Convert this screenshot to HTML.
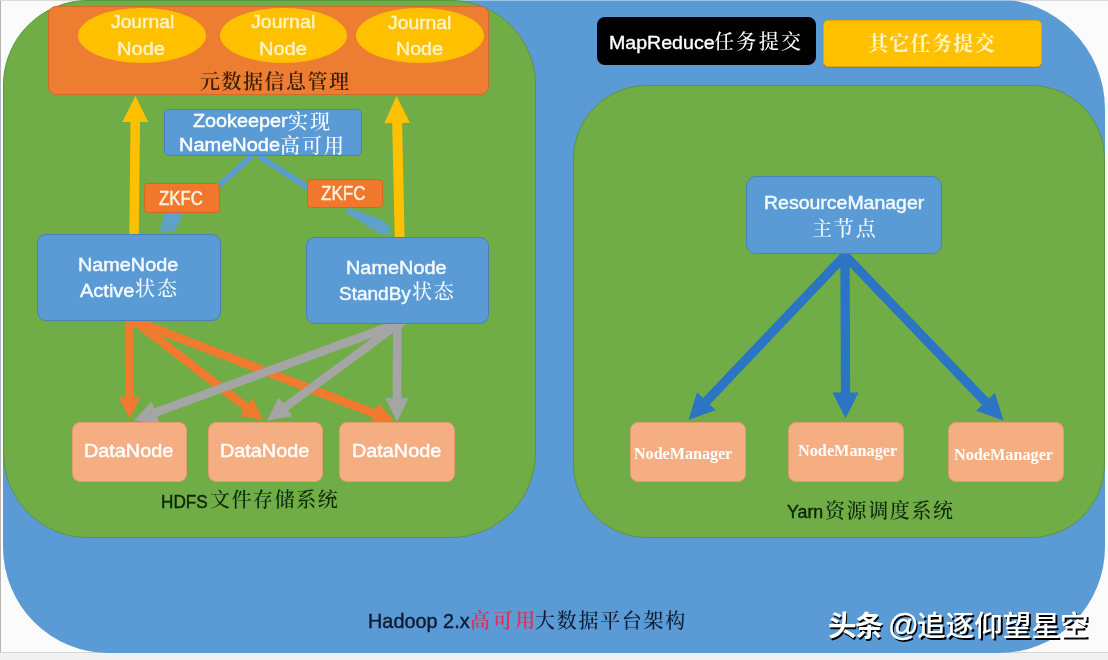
<!DOCTYPE html>
<html lang="zh"><head><meta charset="utf-8"><title>Hadoop 2.x HA architecture</title>
<style>
html,body{margin:0;padding:0}
body{width:1108px;height:660px;overflow:hidden;position:relative;background:#f1f1f1;font-family:"Liberation Sans",sans-serif}
.b{position:absolute;box-sizing:border-box}
.t{position:absolute;white-space:nowrap;line-height:1;transform-origin:0 50%;filter:blur(.35px)}
.c{position:absolute;overflow:visible;filter:blur(.35px)}
.l{position:absolute;left:0;top:0;overflow:visible;filter:blur(.4px)}
.se{font-family:"Liberation Serif","Noto Serif CJK SC",serif;font-size:200px}
.sa{font-family:"Liberation Sans","Noto Sans CJK SC",sans-serif;font-size:200px}
</style></head><body>
<div class="b " style="left:0.0px;top:0.0px;width:1108.0px;height:652.6px;border-radius:0px;background:#fbfbfb;border-left:1px solid #b4b4b4;border-top:1px solid #c4c4c4;border-bottom:1px solid #d6d6d6;"></div>
<div class="b " style="left:2.5px;top:-1.0px;width:1102.5px;height:654.2px;border-radius:109px 110px 106px 106px;background:#5b9bd5;"></div>
<div class="b " style="left:0.0px;top:0.0px;width:1108.0px;height:1.0px;border-radius:0px;background:rgba(255,255,255,.4);"></div>
<div class="b " style="left:2.5px;top:0.0px;width:533.0px;height:538.2px;border-radius:85px;background:#70ad47;border:1px solid #5d9440;"></div>
<div class="b " style="left:47.6px;top:6.4px;width:441.9px;height:88.6px;border-radius:8px;background:#ed7d31;border:1px solid #cf6c28;"></div>
<div class="b " style="left:78.0px;top:7.5px;width:128.0px;height:55.0px;border-radius:50%;background:#ffc000;"></div>
<div class="b " style="left:220.0px;top:7.5px;width:127.3px;height:55.0px;border-radius:50%;background:#ffc000;"></div>
<div class="b " style="left:356.0px;top:7.5px;width:127.6px;height:55.0px;border-radius:50%;background:#ffc000;"></div>
<div class="t" style="left:110.70px;top:13.10px;font-family:'Liberation Sans',sans-serif;font-size:18.17px;color:#fff3c4;transform:scaleX(1.0621);-webkit-text-stroke:0.45px #fff3c4;">Journal</div>
<div class="t" style="left:117.35px;top:40.10px;font-family:'Liberation Sans',sans-serif;font-size:18.17px;color:#fff3c4;transform:scaleX(1.1061);-webkit-text-stroke:0.45px #fff3c4;">Node</div>
<div class="t" style="left:251.49px;top:13.10px;font-family:'Liberation Sans',sans-serif;font-size:18.17px;color:#fff3c4;transform:scaleX(1.0793);-webkit-text-stroke:0.45px #fff3c4;">Journal</div>
<div class="t" style="left:259.36px;top:40.10px;font-family:'Liberation Sans',sans-serif;font-size:18.17px;color:#fff3c4;transform:scaleX(1.1036);-webkit-text-stroke:0.45px #fff3c4;">Node</div>
<div class="t" style="left:387.90px;top:14.10px;font-family:'Liberation Sans',sans-serif;font-size:18.17px;color:#fff3c4;transform:scaleX(1.0639);-webkit-text-stroke:0.45px #fff3c4;">Journal</div>
<div class="t" style="left:395.69px;top:40.10px;font-family:'Liberation Sans',sans-serif;font-size:18.17px;color:#fff3c4;transform:scaleX(1.0817);-webkit-text-stroke:0.45px #fff3c4;">Node</div>
<svg class="c" role="img" aria-label="元数据信息管理" style="left:200.34px;top:71.45px;" width="148.9" height="23.0" viewBox="0 -180.0 1489.4 230.0" fill="#3a1f06"><text class="se" font-weight="600" y="0" x="0 214.9 429.8 644.7 859.6 1074.5 1289.4">元数据信息管理</text></svg>
<svg class="l" width="1108" height="660" viewBox="0 0 1108 660"><polygon fill="#ffc000" points="138.7,236.1 140.0,122.0 148.2,122.1 135.5,96.0 122.2,121.9 130.5,121.9 129.3,235.9"/><polygon fill="#ffc000" points="404.6,238.9 402.1,122.9 409.9,122.7 396.5,96.0 384.3,123.3 392.2,123.1 394.8,239.1"/><polygon fill="#5a9bd2" points="250.3,153.9 214.1,185.9 217.9,190.1 254.1,158.1"/><polygon fill="#5a9bd2" points="257.3,158.4 310.5,192.6 313.5,187.8 260.3,153.6"/><polygon fill="#5c9fd6" opacity=".92" points="165,213.5 183.3,213.5 174.7,231.3 159.5,231.3"/><polygon fill="#5c9fd6" opacity=".92" points="346,209 351,208.5 383,220.5 389,226 390.5,234.5 379,233.5 345,211.5"/></svg>
<div class="b " style="left:163.5px;top:108.7px;width:198.3px;height:47.3px;border-radius:5px;background:#5b9bd5;border:1px solid #4a80b8;"></div>
<div class="t" style="left:192.97px;top:112.10px;font-family:'Liberation Sans',sans-serif;font-size:18.46px;color:#fff;transform:scaleX(1.0726);-webkit-text-stroke:0.45px #fff;">Zookeeper</div>
<svg class="c" role="img" aria-label="实现" style="left:287.76px;top:110.60px;" width="41.9" height="23.0" viewBox="0 -180.0 418.8 230.0" fill="#fff"><text class="se" font-weight="500" y="0" x="0 218.8">实现</text></svg>
<div class="t" style="left:178.76px;top:136.10px;font-family:'Liberation Sans',sans-serif;font-size:18.46px;color:#fff;transform:scaleX(1.0831);-webkit-text-stroke:0.45px #fff;">NameNode</div>
<svg class="c" role="img" aria-label="高可用" style="left:280.48px;top:134.60px;" width="64.0" height="23.0" viewBox="0 -180.0 640.0 230.0" fill="#fff"><text class="se" font-weight="500" y="0" x="0 220 440">高可用</text></svg>
<div class="b " style="left:144.0px;top:183.4px;width:76.0px;height:29.4px;border-radius:4px;background:#f0772b;border:1px solid #d2691f;"></div>
<div class="t" style="left:159.17px;top:189.10px;font-family:'Liberation Sans',sans-serif;font-size:19.77px;color:#fff1e2;transform:scaleX(0.8481);-webkit-text-stroke:0.45px #fff1e2;">ZKFC</div>
<div class="b " style="left:306.6px;top:179.3px;width:76.2px;height:29.1px;border-radius:4px;background:#f0772b;border:1px solid #d2691f;"></div>
<div class="t" style="left:321.46px;top:184.10px;font-family:'Liberation Sans',sans-serif;font-size:19.77px;color:#fff1e2;transform:scaleX(0.8620);-webkit-text-stroke:0.45px #fff1e2;">ZKFC</div>
<svg class="l" width="1108" height="660" viewBox="0 0 1108 660"><polygon fill="#f07a2e" points="124.8,317.0 125.0,397.6 118.5,397.6 129.6,418.6 140.5,397.6 134.0,397.6 133.8,317.0"/><polygon fill="#f07a2e" points="128.2,321.5 243.7,410.6 239.7,415.9 263.0,420.0 253.1,398.5 249.0,403.8 133.5,314.7"/><polygon fill="#f07a2e" points="128.7,323.1 372.9,417.4 370.4,423.7 394.0,421.0 378.4,403.2 376.0,409.4 131.8,315.0"/><polygon fill="#a5a5a5" points="393.0,320.0 392.7,398.0 385.4,398.0 397.0,421.5 408.8,398.0 401.4,398.0 401.6,320.0"/><polygon fill="#a5a5a5" points="400.2,317.2 283.0,403.4 278.6,397.4 267.0,420.5 292.5,416.3 288.1,410.3 405.3,324.1"/><polygon fill="#a5a5a5" points="401.8,317.6 154.1,408.5 151.6,401.6 134.0,420.5 159.6,423.6 157.1,416.6 404.7,325.7"/></svg>
<div class="b " style="left:37.3px;top:234.4px;width:183.7px;height:86.2px;border-radius:9px;background:#5b9bd5;border:1px solid #4a80b8;"></div>
<div class="t" style="left:77.87px;top:256.10px;font-family:'Liberation Sans',sans-serif;font-size:18.31px;color:#f4fbff;transform:scaleX(1.0828);-webkit-text-stroke:0.45px #f4fbff;">NameNode</div>
<div class="t" style="left:79.96px;top:282.10px;font-family:'Liberation Sans',sans-serif;font-size:18.31px;color:#f4fbff;transform:scaleX(1.0934);-webkit-text-stroke:0.45px #f4fbff;">Active</div>
<svg class="c" role="img" aria-label="状态" style="left:135.12px;top:277.85px;" width="42.0" height="23.0" viewBox="0 -180.0 419.8 230.0" fill="#f4fbff"><text class="se" font-weight="500" y="0" x="0 219.8">状态</text></svg>
<div class="b " style="left:305.5px;top:237.3px;width:183.0px;height:86.3px;border-radius:9px;background:#5b9bd5;border:1px solid #4a80b8;"></div>
<div class="t" style="left:346.17px;top:259.10px;font-family:'Liberation Sans',sans-serif;font-size:18.31px;color:#f4fbff;transform:scaleX(1.0873);-webkit-text-stroke:0.45px #f4fbff;">NameNode</div>
<div class="t" style="left:339.14px;top:285.10px;font-family:'Liberation Sans',sans-serif;font-size:18.31px;color:#f4fbff;transform:scaleX(1.0385);-webkit-text-stroke:0.45px #f4fbff;">StandBy</div>
<svg class="c" role="img" aria-label="状态" style="left:411.62px;top:280.85px;" width="41.8" height="23.0" viewBox="0 -180.0 417.8 230.0" fill="#f4fbff"><text class="se" font-weight="500" y="0" x="0 217.8">状态</text></svg>
<div class="b " style="left:71.6px;top:422.2px;width:115.4px;height:59.5px;border-radius:8px;background:#f5ad82;border:1px solid #e39c72;"></div>
<div class="t" style="left:83.97px;top:443.10px;font-family:'Liberation Sans',sans-serif;font-size:17.73px;color:#fff;transform:scaleX(1.1185);-webkit-text-stroke:0.45px #fff;">DataNode</div>
<div class="b " style="left:208.0px;top:422.2px;width:114.6px;height:59.5px;border-radius:8px;background:#f5ad82;border:1px solid #e39c72;"></div>
<div class="t" style="left:220.37px;top:443.10px;font-family:'Liberation Sans',sans-serif;font-size:17.73px;color:#fff;transform:scaleX(1.1185);-webkit-text-stroke:0.45px #fff;">DataNode</div>
<div class="b " style="left:339.3px;top:422.2px;width:115.3px;height:59.5px;border-radius:8px;background:#f5ad82;border:1px solid #e39c72;"></div>
<div class="t" style="left:351.67px;top:443.10px;font-family:'Liberation Sans',sans-serif;font-size:17.73px;color:#fff;transform:scaleX(1.1185);-webkit-text-stroke:0.45px #fff;">DataNode</div>
<div class="t" style="left:160.59px;top:493.10px;font-family:'Liberation Sans',sans-serif;font-size:18.90px;color:#0c2607;transform:scaleX(0.9078);-webkit-text-stroke:0.45px #0c2607;">HDFS</div>
<svg class="c" role="img" aria-label="文件存储系统" style="left:209.72px;top:489.10px;" width="127.8" height="23.0" viewBox="0 -180.0 1277.6 230.0" fill="#0c2607"><text class="se" font-weight="500" y="0" x="0 215.5 431 646.6 862.1 1077.6">文件存储系统</text></svg>
<div class="b " style="left:597.3px;top:17.3px;width:218.5px;height:48.2px;border-radius:8px;background:#000;"></div>
<div class="t" style="left:609.09px;top:34.10px;font-family:'Liberation Sans',sans-serif;font-size:18.75px;color:#fff;transform:scaleX(1.0442);-webkit-text-stroke:0.35px #fff;">MapReduce</div>
<svg class="c" role="img" aria-label="任务提交" style="left:714.42px;top:31.00px;" width="87.1" height="23.0" viewBox="0 -180.0 871.0 230.0" fill="#fff"><text class="se" font-weight="500" y="0" x="0 223.7 447.3 671">任务提交</text></svg>
<div class="b " style="left:822.7px;top:19.6px;width:218.9px;height:47.4px;border-radius:5px;background:#ffc000;border:1px solid #e0a800;box-shadow:0 1px 1px rgba(120,90,0,.35);"></div>
<svg class="c" role="img" aria-label="其它任务提交" style="left:868.32px;top:32.75px;" width="126.5" height="23.0" viewBox="0 -180.0 1264.6 230.0" fill="#fff4c4"><text class="se" font-weight="700" y="0" x="0 212.9 425.8 638.8 851.7 1064.6">其它任务提交</text></svg>
<div class="b " style="left:573.2px;top:84.5px;width:531.8px;height:453.7px;border-radius:74px;background:#70ad47;border:1px solid #5d9440;"></div>
<svg class="l" width="1108" height="660" viewBox="0 0 1108 660"><polygon fill="#2c74c4" points="844.4,249.4 703.1,398.0 697.0,392.2 688.5,420.0 715.8,410.1 709.8,404.4 851.1,255.8"/><polygon fill="#2c74c4" points="840.3,251.5 840.9,392.5 832.5,392.5 845.6,418.5 858.5,392.5 850.2,392.5 849.6,251.5"/><polygon fill="#2c74c4" points="838.9,255.8 982.1,405.0 976.1,410.8 1003.5,420.5 994.9,392.7 988.8,398.5 845.6,249.4"/></svg>
<div class="b " style="left:746.0px;top:175.6px;width:196.4px;height:78.4px;border-radius:10px;background:#5b9bd5;border:1px solid #4a80b8;"></div>
<div class="t" style="left:764.00px;top:194.10px;font-family:'Liberation Sans',sans-serif;font-size:18.90px;color:#f4fbff;transform:scaleX(1.0314);-webkit-text-stroke:0.45px #f4fbff;">ResourceManager</div>
<svg class="c" role="img" aria-label="主节点" style="left:812.22px;top:218.10px;" width="63.7" height="23.0" viewBox="0 -180.0 637.0 230.0" fill="#f4fbff"><text class="se" font-weight="500" y="0" x="0 218.5 437">主节点</text></svg>
<div class="b " style="left:629.6px;top:422.0px;width:116.0px;height:60.0px;border-radius:8px;background:#f5ad82;border:1px solid #e39c72;"></div>
<div class="t" style="left:634.09px;top:446.10px;font-family:'Liberation Serif',serif;font-weight:bold;font-size:16.19px;color:#fff;transform:scaleX(0.9933);">NodeManager</div>
<div class="b " style="left:787.6px;top:422.0px;width:116.8px;height:60.0px;border-radius:8px;background:#f5ad82;border:1px solid #e39c72;"></div>
<div class="t" style="left:798.09px;top:443.10px;font-family:'Liberation Serif',serif;font-weight:bold;font-size:16.19px;color:#fff;transform:scaleX(1.0035);">NodeManager</div>
<div class="b " style="left:947.6px;top:422.0px;width:116.0px;height:60.0px;border-radius:8px;background:#f5ad82;border:1px solid #e39c72;"></div>
<div class="t" style="left:953.69px;top:447.10px;font-family:'Liberation Serif',serif;font-weight:bold;font-size:16.19px;color:#fff;transform:scaleX(1.0015);">NodeManager</div>
<div class="t" style="left:786.61px;top:503.10px;font-family:'Liberation Sans',sans-serif;font-size:18.90px;color:#0c2607;transform:scaleX(0.9407);-webkit-text-stroke:0.45px #0c2607;">Yarn</div>
<svg class="c" role="img" aria-label="资源调度系统" style="left:825.40px;top:499.60px;" width="128.1" height="23.0" viewBox="0 -180.0 1280.8 230.0" fill="#0c2607"><text class="se" font-weight="500" y="0" x="0 216.2 432.3 648.5 864.6 1080.8">资源调度系统</text></svg>
<div class="t" style="left:367.97px;top:612.10px;font-family:'Liberation Sans',sans-serif;font-size:19.62px;color:#101c33;transform:scaleX(1.0128);-webkit-text-stroke:0.45px #101c33;">Hadoop 2.x</div>
<svg class="c" role="img" aria-label="高可用" style="left:469.56px;top:610.35px;" width="65.3" height="23.0" viewBox="0 -180.0 653.4 230.0" fill="#e2304e"><text class="se" font-weight="600" y="0" x="0 226.7 453.4">高可用</text></svg>
<svg class="c" role="img" aria-label="大数据平台架构" style="left:534.58px;top:610.35px;" width="150.3" height="23.0" viewBox="0 -180.0 1503.0 230.0" fill="#101c33"><text class="se" font-weight="500" y="0" x="0 217.2 434.3 651.5 868.7 1085.8 1303">大数据平台架构</text></svg>
<svg class="c" role="img" aria-label="头条" style="left:829.40px;top:611.78px;" width="55.5" height="32.8" viewBox="0 -180.0 389.3 230.0" fill="#000"><text class="sa" font-weight="700" y="0" x="0 189.3">头条</text></svg>
<svg class="c" role="img" aria-label="追逐仰望星空" style="left:918.97px;top:611.78px;" width="171.6" height="32.8" viewBox="0 -180.0 1204.0 230.0" fill="#000"><text class="sa" font-weight="500" y="0" x="0 200.8 401.6 602.4 803.2 1004">追逐仰望星空</text></svg>
<svg class="c" role="img" aria-label="头条" style="left:827.80px;top:610.18px;" width="55.5" height="32.8" viewBox="0 -180.0 389.3 230.0" fill="#fff"><text class="sa" font-weight="700" y="0" x="0 189.3">头条</text></svg>
<svg class="c" role="img" aria-label="追逐仰望星空" style="left:917.37px;top:610.18px;" width="171.6" height="32.8" viewBox="0 -180.0 1204.0 230.0" fill="#fff"><text class="sa" font-weight="500" y="0" x="0 200.8 401.6 602.4 803.2 1004">追逐仰望星空</text></svg>
<div class="t" style="left:888.21px;top:610.10px;font-family:'Liberation Sans',sans-serif;font-size:30.50px;color:#fff;transform:scaleX(0.9951);text-shadow:1.6px 1.6px 0 #000;-webkit-text-stroke:0.3px #fff;">@</div>
</body></html>
